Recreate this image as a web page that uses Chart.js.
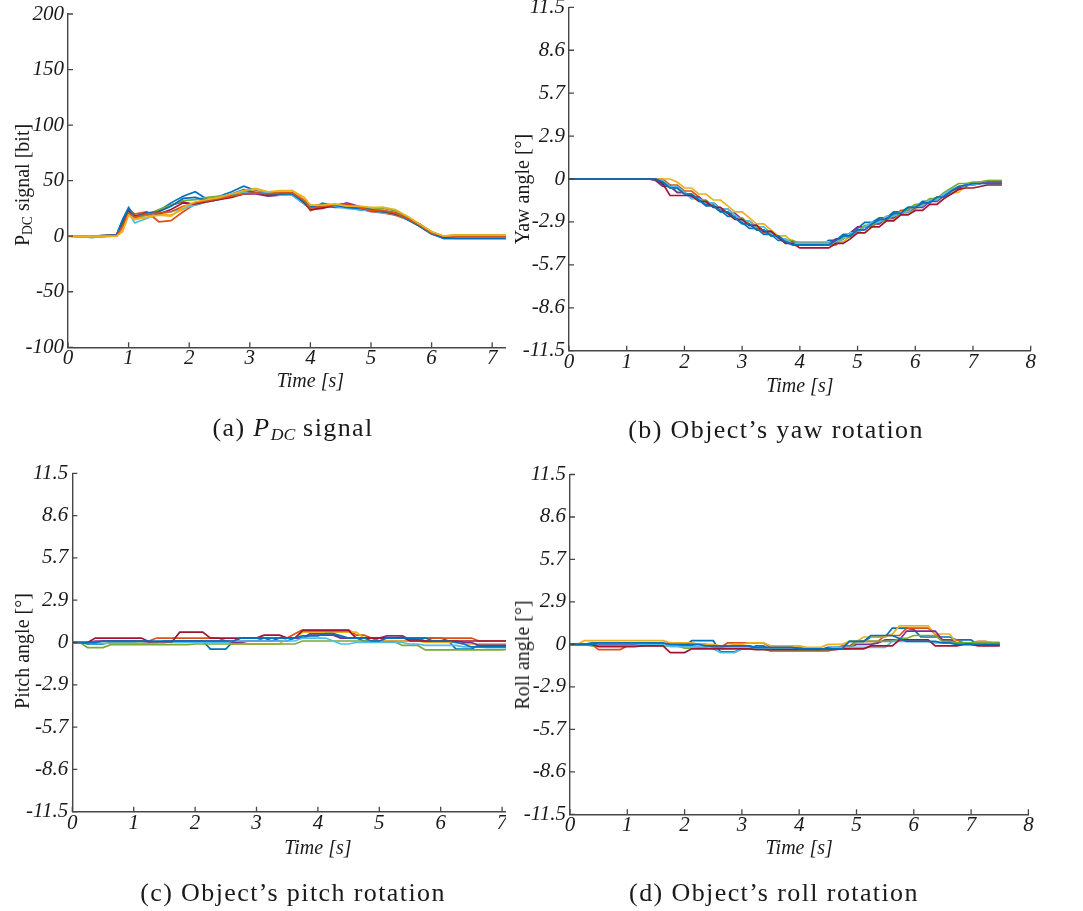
<!DOCTYPE html>
<html>
<head>
<meta charset="utf-8">
<script src="https://cdn.jsdelivr.net/npm/chart.js@4.4.1/dist/chart.umd.min.js"></script>
<style>
  body { margin: 0; background: #fff; }
  #fig { position: relative; width: 1083px; height: 911px; overflow: hidden;
         font-family: 'Liberation Serif', 'Times New Roman', serif; color: #1a1a1a; }
  .clip { position: absolute; overflow: hidden; }
  .clip canvas { position: absolute; }
  .ytitle { position: absolute; font-size: 20px; line-height: 20px; white-space: nowrap;
            transform: translate(-50%, -50%) rotate(-90deg); }
  .caption { position: absolute; font-size: 26px; line-height: 26px; letter-spacing: 1.4px;
             white-space: nowrap; transform: translate(-50%, -50%); }
  sub { font-size: 68%; vertical-align: -0.22em; line-height: 0; letter-spacing: 0; }
</style>
</head>
<body>
<div id="fig">
  <div class="ytitle" style="left:22px;top:185px">P<sub>DC</sub> signal [bit]</div>
  <div class="ytitle" style="left:522px;top:189px">Yaw angle [°]</div>
  <div class="ytitle" style="left:22px;top:651px">Pitch angle [°]</div>
  <div class="ytitle" style="left:522px;top:655px">Roll angle [°]</div>
  <div class="caption" style="left:293px;top:428px">(a) <i>P</i><sub><i>DC</i></sub> signal</div>
  <div class="caption" style="left:776px;top:430px">(b) Object’s yaw rotation</div>
  <div class="caption" style="left:293px;top:893px">(c) Object’s pitch rotation</div>
  <div class="caption" style="left:774px;top:893px">(d) Object’s roll rotation</div>
</div>
<script>
// ---- P_DC signal, one array per trial ----
const pdcTime = [0, 0.4, 0.8, 0.9, 1.0, 1.1, 1.3, 1.5, 1.7, 1.9, 2.1, 2.3, 2.5, 2.7, 2.9, 3.1, 3.3,
  3.5, 3.7, 3.9, 4.0, 4.2, 4.4, 4.6, 4.8, 5.0, 5.2, 5.4, 5.6, 5.8, 6.0, 6.2, 6.4, 7.5];
const pdcRun1  = [0, -1, 1, 15, 26, 18, 20, 23, 30, 36, 40, 33, 36, 40, 45, 41, 38, 38, 37, 29, 25, 28, 26, 26, 24, 23, 22, 20, 15, 10, 3, -2, -2, -2];
const pdcRun2  = [0, 0, 0, 8, 24, 20, 22, 13, 14, 22, 29, 31, 33, 36, 39, 40, 39, 39, 39, 31, 23, 27, 27, 28, 25, 22, 21, 19, 15, 9, 2, -1, 0, 0];
const pdcRun3  = [0, -1, 1, 5, 20, 16, 17, 20, 19, 24, 30, 33, 35, 37, 41, 42, 40, 40, 41, 33, 28, 27, 28, 27, 26, 25, 26, 23, 16, 10, 4, 0, 1, 1];
const pdcRun4  = [0, 0, 1, 10, 22, 18, 19, 22, 28, 31, 28, 32, 34, 36, 38, 38, 36, 37, 37, 30, 26, 26, 27, 30, 27, 24, 23, 21, 16, 10, 3, -1, 0, 0];
const pdcRun5  = [0, 0, 1, 12, 25, 17, 19, 24, 28, 32, 33, 35, 36, 37, 40, 40, 38, 38, 38, 32, 27, 28, 27, 28, 26, 24, 25, 23, 17, 11, 4, 0, 1, 1];
const pdcRun6  = [0, -1, 0, 9, 21, 12, 16, 20, 22, 25, 28, 31, 33, 36, 39, 40, 39, 37, 37, 29, 24, 30, 27, 25, 24, 23, 21, 20, 15, 10, 3, -1, -2, -2];
const pdcRun7  = [0, 0, 1, 11, 23, 18, 21, 20, 24, 30, 29, 31, 33, 35, 38, 39, 37, 38, 39, 30, 24, 25, 28, 29, 26, 23, 22, 20, 16, 11, 3, -1, 0, 0];
const pdcRun8  = [0, 0, 1, 14, 25, 17, 21, 22, 27, 34, 35, 32, 34, 38, 42, 39, 38, 38, 38, 31, 26, 29, 28, 26, 25, 24, 22, 21, 15, 9, 2, -2, -2, -2];
const pdcRun9  = [0, 0, 0, 9, 21, 17, 20, 21, 22, 27, 30, 32, 34, 36, 38, 39, 38, 39, 39, 32, 25, 27, 28, 29, 26, 23, 23, 21, 16, 10, 3, 0, 0, 0];
const pdcRun10 = [0, 0, 0, 4, 19, 15, 17, 19, 18, 26, 31, 33, 35, 38, 41, 43, 40, 41, 41, 35, 28, 28, 29, 27, 27, 26, 26, 24, 18, 11, 4, 0, 1, 1];

// ---- object rotation (deg), sampled every 0.125 s ----
const angleTime = [0, 0.125, 0.25, 0.375, 0.5, 0.625, 0.75, 0.875, 1, 1.125, 1.25, 1.375, 1.5, 1.625, 1.75, 1.875,
  2, 2.125, 2.25, 2.375, 2.5, 2.625, 2.75, 2.875, 3, 3.125, 3.25, 3.375, 3.5, 3.625, 3.75, 3.875,
  4, 4.125, 4.25, 4.375, 4.5, 4.625, 4.75, 4.875, 5, 5.125, 5.25, 5.375, 5.5, 5.625, 5.75, 5.875,
  6, 6.125, 6.25, 6.375, 6.5, 6.625, 6.75, 6.875, 7, 7.125, 7.25, 7.375, 7.5];

const yawRun1 = [0, 0, 0, 0, 0, 0, 0, 0, 0, 0, 0, 0, 0, -0.4, -0.4, -0.9,
  -0.9, -1.3, -1.3, -1.7, -1.7, -2.1, -2.5, -2.5, -2.9, -3.3, -3.3, -3.7, -3.7, -4.1, -4.1, -4.4,
  -4.4, -4.4, -4.4, -4.4, -4.1, -4.1, -3.7, -3.7, -3.3, -2.9, -2.9, -2.6, -2.6, -2.2, -2.2, -1.9,
  -1.9, -1.5, -1.5, -1.2, -1.2, -0.8, -0.5, -0.5, -0.3, -0.3, -0.2, -0.2, -0.2];
const yawRun2 = [0, 0, 0, 0, 0, 0, 0, 0, 0, 0, 0, 0, 0, 0, -0.4, -0.4,
  -0.8, -0.8, -1.2, -1.6, -1.6, -2.0, -2.0, -2.4, -2.8, -2.8, -3.2, -3.6, -3.6, -3.9, -4.2, -4.2,
  -4.4, -4.4, -4.4, -4.4, -4.4, -4.4, -4.0, -3.6, -3.6, -3.2, -3.2, -2.8, -2.5, -2.5, -2.1, -2.1,
  -1.8, -1.8, -1.4, -1.4, -1.0, -1.0, -0.7, -0.4, -0.4, -0.3, -0.2, -0.2, -0.2];
const yawRun3 = [0, 0, 0, 0, 0, 0, 0, 0, 0, 0, 0, 0, 0, 0, 0, -0.2,
  -0.6, -0.6, -1.0, -1.0, -1.4, -1.4, -1.8, -2.2, -2.2, -2.6, -3.0, -3.0, -3.4, -3.8, -3.8, -4.2,
  -4.2, -4.2, -4.2, -4.2, -4.2, -4.2, -4.2, -3.8, -3.4, -3.4, -3.0, -3.0, -2.7, -2.7, -2.3, -2.3,
  -2.0, -1.6, -1.6, -1.2, -1.2, -0.9, -0.9, -0.4, -0.3, -0.2, -0.1, -0.1, -0.1];
const yawRun4 = [0, 0, 0, 0, 0, 0, 0, 0, 0, 0, 0, 0, -0.1, -0.5, -0.5, -0.9,
  -0.9, -1.2, -1.2, -1.6, -1.6, -2.0, -2.3, -2.3, -2.7, -3.1, -3.1, -3.5, -3.5, -3.9, -4.2, -4.2,
  -4.3, -4.3, -4.3, -4.3, -4.3, -4.0, -4.0, -3.6, -3.2, -3.2, -3.0, -3.0, -2.6, -2.6, -2.2, -2.2,
  -1.9, -1.9, -1.5, -1.5, -1.1, -0.8, -0.6, -0.4, -0.4, -0.3, -0.2, -0.2, -0.2];
const yawRun5 = [0, 0, 0, 0, 0, 0, 0, 0, 0, 0, 0, 0, 0, -0.2, -0.6, -0.6,
  -1.0, -1.0, -1.4, -1.4, -1.8, -2.2, -2.2, -2.6, -2.6, -3.0, -3.4, -3.4, -3.8, -3.8, -4.1, -4.1,
  -4.3, -4.3, -4.3, -4.3, -4.3, -4.3, -3.9, -3.9, -3.5, -3.1, -3.1, -2.8, -2.8, -2.4, -2.4, -2.0,
  -1.7, -1.7, -1.3, -1.3, -0.9, -0.6, -0.3, -0.3, -0.2, -0.2, -0.1, -0.1, -0.1];
const yawRun6 = [0, 0, 0, 0, 0, 0, 0, 0, 0, 0, 0, 0, 0, -0.1, -0.5, -0.5,
  -0.9, -1.3, -1.3, -1.6, -1.6, -2.0, -2.0, -2.4, -2.8, -2.8, -3.2, -3.2, -3.6, -4.0, -4.0, -4.3,
  -4.3, -4.3, -4.3, -4.3, -4.3, -4.3, -4.0, -3.6, -3.6, -3.2, -2.9, -2.9, -2.5, -2.5, -2.2, -2.2,
  -1.8, -1.8, -1.4, -1.4, -1.0, -0.7, -0.5, -0.4, -0.4, -0.3, -0.3, -0.3, -0.3];
const yawRun7 = [0, 0, 0, 0, 0, 0, 0, 0, 0, 0, 0, 0, 0, -0.3, -1.1, -1.1,
  -1.1, -1.1, -1.5, -1.5, -1.9, -1.9, -2.3, -2.7, -2.7, -3.1, -3.1, -3.5, -3.5, -3.9, -4.3, -4.3,
  -4.6, -4.6, -4.6, -4.6, -4.6, -4.3, -4.3, -4.0, -3.6, -3.6, -3.2, -3.2, -2.8, -2.8, -2.4, -2.4,
  -2.1, -2.1, -1.7, -1.7, -1.3, -1.0, -0.7, -0.6, -0.6, -0.5, -0.4, -0.4, -0.4];
const yawRun8 = [0, 0, 0, 0, 0, 0, 0, 0, 0, 0, 0, 0, 0, -0.2, -0.6, -0.6,
  -1.0, -1.0, -1.4, -1.8, -1.8, -2.2, -2.2, -2.6, -3.0, -3.0, -3.4, -3.4, -3.8, -3.8, -4.2, -4.4,
  -4.4, -4.4, -4.4, -4.4, -4.4, -4.1, -3.8, -3.8, -3.4, -3.4, -3.0, -2.7, -2.7, -2.3, -2.3, -1.9,
  -1.9, -1.6, -1.6, -1.2, -1.2, -0.8, -0.5, -0.4, -0.3, -0.3, -0.3, -0.3, -0.3];

const pitchRun1 = [0, 0, -0.1, -0.1, -0.1, 0, 0, 0, 0, 0, 0, 0, 0.1, 0.1, 0.1, 0.1,
  0.1, 0.1, -0.45, -0.45, -0.45, 0.1, 0.3, 0.3, 0.3, 0.3, 0.1, 0.1, 0.1, 0.3, 0.3, 0.6,
  0.6, 0.6, 0.6, 0.3, 0.3, 0.3, 0.1, 0.1, 0.3, 0.3, 0.3, 0.3, 0.3, 0.3, 0.3, 0.3,
  0.3, 0.1, -0.45, -0.45, -0.45, -0.15, -0.15, -0.15, -0.15, -0.15, -0.15, -0.15, -0.15];
const pitchRun2 = [0, 0, 0, 0, 0.1, 0.1, 0.1, 0.1, 0.1, 0.1, 0.1, 0.3, 0.3, 0.3, 0.3, 0.3,
  0.3, 0.3, 0.3, 0.3, 0.1, 0.1, 0.1, 0.1, 0.1, 0.3, 0.3, 0.3, 0.3, 0.6, 0.85, 0.85,
  0.85, 0.85, 0.85, 0.85, 0.85, 0.5, 0.5, 0.3, 0.1, 0.1, 0.1, 0.1, 0.1, 0.1, 0.3, 0.3,
  0.3, 0.3, 0.3, 0.3, 0.3, 0.1, 0.1, 0.1, 0.1, 0.1, 0.1, 0.1, 0.1];
const pitchRun3 = [0, 0, 0.05, 0.05, 0.05, 0.05, 0.05, 0.05, 0.05, 0, 0, 0, 0, 0.05, 0.05, 0.05,
  0.05, 0.05, 0.1, 0.1, 0.1, -0.1, -0.1, -0.1, -0.1, -0.1, -0.1, -0.1, 0.3, 0.3, 0.7, 0.7,
  0.7, 0.7, 0.7, 0.7, 0.7, 0.7, 0.3, 0.3, 0.3, 0.1, 0.1, 0.1, 0.1, 0.1, 0, 0,
  0, 0, 0, -0.1, -0.1, -0.1, -0.1, -0.1, -0.1, -0.1, -0.1, -0.1, -0.1];
const pitchRun4 = [0, 0, 0, 0.1, 0.1, 0.1, 0.1, 0.1, 0.1, 0.1, 0, 0, 0, 0.1, 0.1, 0.1,
  0.1, 0.1, 0.1, 0.1, 0.1, 0, 0, 0.1, 0.1, 0.1, 0.1, 0.3, 0.3, 0.3, 0.3, 0.5,
  0.5, 0.5, 0.5, 0.3, 0.3, 0.3, 0.3, 0.3, 0.3, 0.45, 0.45, 0.45, 0.2, 0.2, 0.1, 0.1,
  0.1, 0.1, 0.1, 0, 0, -0.2, -0.2, -0.2, -0.2, -0.2, -0.2, -0.2, -0.2];
const pitchRun5 = [0, 0, -0.35, -0.35, -0.35, -0.15, -0.15, -0.15, -0.15, -0.15, -0.15, -0.15, -0.15, -0.15, -0.15, -0.15,
  -0.1, -0.1, -0.1, -0.1, -0.1, -0.1, -0.1, -0.1, -0.1, -0.1, -0.1, -0.1, -0.1, -0.1, 0.1, 0.1,
  0.1, 0.1, 0.1, 0.1, 0.1, 0.1, 0.1, 0.1, 0.05, 0.05, 0.05, -0.2, -0.2, -0.2, -0.5, -0.5,
  -0.5, -0.5, -0.5, -0.5, -0.5, -0.5, -0.5, -0.5, -0.5, -0.45, -0.45, -0.45, -0.45];
const pitchRun6 = [0, 0, 0, 0, -0.05, -0.05, -0.05, -0.05, -0.05, -0.05, -0.05, 0, 0, 0, 0, 0,
  0, 0, 0, 0, 0, 0.1, 0.1, 0.1, 0.1, 0.1, 0.1, 0.1, 0.1, 0.1, 0.3, 0.3,
  0.3, 0.3, 0.1, -0.1, -0.1, 0, 0, 0, 0, 0, 0, 0, -0.1, -0.1, -0.2, -0.2,
  -0.2, -0.2, -0.2, -0.3, -0.3, -0.3, -0.35, -0.35, -0.35, -0.35, -0.35, -0.35, -0.35];
const pitchRun7 = [0, 0, 0, 0.3, 0.3, 0.3, 0.3, 0.3, 0.3, 0.3, 0.05, 0.05, 0.05, 0.05, 0.7, 0.7,
  0.7, 0.7, 0.3, 0.3, 0.3, 0.3, 0.3, 0.3, 0.3, 0.5, 0.5, 0.5, 0.3, 0.3, 0.8, 0.8,
  0.8, 0.8, 0.8, 0.8, 0.8, 0.3, 0.3, 0.3, 0.3, 0.3, 0.3, 0.35, 0.1, 0.1, 0.1, 0.1,
  0.1, 0.1, 0.1, 0.1, 0.1, 0.1, 0.1, 0.1, 0.1, 0.1, 0.1, 0.1, 0.1];
const pitchRun8 = [0, 0, 0, 0, 0.1, 0.1, 0.1, 0.1, 0.1, 0.1, 0.1, 0.1, 0.1, 0.1, 0.1, 0.1,
  0.1, 0.1, 0.1, 0.1, 0.1, 0.1, 0.3, 0.3, 0.3, 0.3, 0.3, 0.3, 0.3, 0.3, 0.45, 0.45,
  0.45, 0.6, 0.6, 0.45, 0.3, 0.3, 0.3, 0.1, 0.1, 0.3, 0.3, 0.3, 0.3, 0.3, 0.3, 0.1,
  0.1, 0.1, 0, -0.1, -0.3, -0.3, -0.3, -0.3, -0.3, -0.3, -0.3, -0.3, -0.3];

const rollRun1 = [0, 0, 0, 0.1, 0.1, 0.1, 0.1, 0.1, 0.1, 0, 0, 0, 0, 0, -0.1, -0.1,
  -0.1, 0.25, 0.25, 0.25, 0.25, -0.5, -0.5, -0.5, -0.3, -0.3, -0.1, -0.1, -0.35, -0.35, -0.35, -0.35,
  -0.35, -0.35, -0.35, -0.35, -0.2, -0.2, -0.2, 0.2, 0.2, 0.2, 0.5, 0.5, 0.5, 1.1, 1.1, 1.1,
  1.0, 0.5, 0.5, 0.5, 0.5, 0.5, 0.3, 0.3, 0.3, -0.05, -0.05, -0.05, -0.05];
const rollRun2 = [0, 0, 0, 0, -0.35, -0.35, -0.35, -0.35, -0.1, -0.1, -0.1, 0, 0, 0, 0, 0,
  0, 0, 0, 0, -0.2, -0.2, 0.1, 0.1, 0.1, 0.1, 0.1, 0.1, -0.2, -0.2, -0.2, -0.2,
  -0.2, -0.3, -0.3, -0.3, -0.3, -0.3, -0.1, -0.1, 0.2, 0.2, 0.2, 0.2, 0.6, 0.6, 0.6, 1.1,
  1.1, 1.1, 1.1, 0.7, 0.3, 0.3, 0.3, 0.1, 0.1, 0.2, 0.2, 0.1, 0.1];
const rollRun3 = [0, 0, 0.25, 0.25, 0.25, 0.25, 0.25, 0.25, 0.25, 0.25, 0.25, 0.25, 0.25, 0.25, 0.1, 0.1,
  0.1, 0.1, 0, 0, 0, -0.1, -0.1, 0, 0, 0.1, 0.1, 0.1, -0.1, -0.1, -0.1, -0.1,
  -0.1, -0.2, -0.2, -0.2, 0, 0, 0, 0.2, 0.2, 0.5, 0.5, 0.5, 0.5, 0.7, 1.25, 1.25,
  1.25, 1.25, 1.25, 0.7, 0.7, 0.7, 0.1, 0.1, 0.1, 0.15, 0.15, 0.15, 0.15];
const rollRun4 = [0, 0, 0, 0, 0, 0, 0, 0, 0, 0, 0, 0, 0, 0, -0.1, -0.1,
  -0.1, -0.1, -0.2, -0.2, -0.2, -0.2, -0.1, -0.1, -0.1, -0.1, -0.25, -0.25, -0.25, -0.25, -0.25, -0.25,
  -0.3, -0.3, -0.3, -0.3, -0.3, -0.3, -0.2, -0.2, 0, 0, 0, 0.1, 0.3, 0.3, 0.3, 0.9,
  0.9, 0.9, 0.9, 0.9, 0.3, 0.3, 0.1, 0.1, 0, 0, 0, 0, 0];
const rollRun5 = [0, 0, 0, -0.1, -0.1, -0.1, -0.1, -0.1, -0.1, -0.1, -0.1, -0.1, -0.1, -0.1, -0.1, -0.1,
  -0.25, -0.25, -0.25, -0.25, -0.25, -0.25, -0.25, -0.25, -0.25, -0.25, -0.3, -0.3, -0.45, -0.45, -0.45, -0.45,
  -0.45, -0.45, -0.45, -0.45, -0.45, -0.3, -0.3, -0.3, 0.2, 0.2, 0.2, 0.2, 0.2, 0.2, 0.4, 0.4,
  0.6, 0.6, 0.6, 0.6, 0.2, 0.2, 0.1, 0.1, 0.1, 0.1, 0.1, 0.1, 0.1];
const rollRun6 = [0, 0, 0, 0, 0.05, 0.05, 0.05, 0.05, 0.05, 0.05, 0, 0, 0, 0, -0.15, -0.15,
  -0.15, -0.15, -0.15, -0.15, -0.3, -0.55, -0.55, -0.55, -0.3, -0.3, -0.3, -0.3, -0.3, -0.3, -0.3, -0.3,
  -0.3, -0.3, -0.3, -0.3, -0.3, -0.2, -0.2, -0.2, -0.2, -0.2, -0.2, -0.2, -0.2, 0.2, 0.2, 0.2,
  0.2, 0.2, 0.2, 0.1, 0.1, 0.1, 0, 0, 0, 0, 0, 0, 0];
const rollRun7 = [0, 0, 0, 0, -0.15, -0.15, -0.15, -0.15, -0.15, -0.15, -0.1, -0.1, -0.1, -0.1, -0.55, -0.55,
  -0.55, -0.3, -0.3, -0.3, -0.3, -0.3, -0.3, -0.3, -0.3, -0.3, -0.35, -0.35, -0.35, -0.35, -0.35, -0.35,
  -0.35, -0.35, -0.35, -0.35, -0.35, -0.35, -0.3, -0.3, -0.3, -0.3, -0.1, -0.1, -0.1, -0.1, 0.3, 0.3,
  0.3, 0.3, 0.3, -0.1, -0.1, -0.1, -0.1, 0, 0, -0.1, -0.1, -0.1, -0.1];
const rollRun8 = [0, 0, 0, 0, 0.1, 0.1, 0.1, 0.1, 0.1, 0.1, 0.1, 0.1, 0.1, 0.1, 0, 0,
  0, 0, 0, -0.1, -0.1, -0.1, -0.1, -0.1, -0.1, -0.1, -0.2, -0.2, -0.2, -0.2, -0.2, -0.2,
  -0.3, -0.3, -0.3, -0.3, -0.3, -0.3, -0.3, 0.2, 0.2, 0.2, 0.6, 0.6, 0.6, 0.6, 0.4, 0.2,
  0.2, 0.2, 0.2, 0.2, 0.1, 0.1, 0, 0, 0, 0, 0, 0, 0];

// axis ticks
const timeTicks = [0, 1, 2, 3, 4, 5, 6, 7, 8];
const pdcTicks = [-100, -50, 0, 50, 100, 150, 200];
const angleTicks = [-11.46, -8.595, -5.73, -2.865, 0, 2.865, 5.73, 8.595, 11.46];
const angleTickLabels = ['-11.5', '-8.6', '-5.7', '-2.9', '0', '2.9', '5.7', '8.6', '11.5'];

// MATLAB default line colour order
const lineColors = ['#0072BD', '#D95319', '#EDB120', '#7E2F8E', '#77AC30', '#4DBEEE', '#A2142F'];
const AXIS_COLOR = '#464646';
const TEXT_COLOR = '#1a1a1a';
const TICK_LEN = 5;
const SERIF = "'Liberation Serif', 'Times New Roman', serif";

// MATLAB-style ticks that point into the plot
const inwardTicks = {
  id: 'inwardTicks',
  afterDraw(chart) {
    const {ctx, chartArea: a, scales: {x, y}} = chart;
    ctx.save();
    ctx.strokeStyle = AXIS_COLOR;
    ctx.lineWidth = 1.3;
    ctx.beginPath();
    x.ticks.forEach(t => {
      const px = x.getPixelForValue(t.value);
      ctx.moveTo(px, a.bottom);
      ctx.lineTo(px, a.bottom - TICK_LEN);
    });
    y.ticks.forEach(t => {
      const py = y.getPixelForValue(t.value);
      ctx.moveTo(a.left, py);
      ctx.lineTo(a.left + TICK_LEN, py);
    });
    ctx.stroke();
    ctx.restore();
  }
};

function runsToDatasets(times, runs) {
  return runs.map((vals, i) => ({
    data: vals.map((v, k) => ({x: times[k], y: v})),
    borderColor: lineColors[i % lineColors.length],
    borderWidth: 1.7,
    pointRadius: 0,
    tension: 0,
    order: runs.length - i   // later runs drawn on top
  }));
}

// clip/canvas: [left, top, width, height] on the page; plot: [left, top, right, bottom] on the page
function addPanel(cfg) {
  const fig = document.getElementById('fig');
  const wrap = document.createElement('div');
  wrap.className = 'clip';
  const [wl, wt, ww, wh] = cfg.clip;
  Object.assign(wrap.style, {left: wl + 'px', top: wt + 'px', width: ww + 'px', height: wh + 'px'});
  const canvas = document.createElement('canvas');
  const [cl, ct, cw, ch] = cfg.canvas;
  canvas.width = cw;
  canvas.height = ch;
  Object.assign(canvas.style, {left: (cl - wl) + 'px', top: (ct - wt) + 'px', width: cw + 'px', height: ch + 'px'});
  wrap.appendChild(canvas);
  fig.insertBefore(wrap, fig.firstChild);

  const [pl, pt, pr, pb] = cfg.plot;
  const yWidth = pl - cl;
  const xHeight = ct + ch - pb;
  const titlePad = ct + ch - cfg.xTitleY - 12;

  const tickFont = {family: SERIF, style: 'italic', size: 21, lineHeight: 1};

  new Chart(canvas, {
    type: 'line',
    data: {datasets: runsToDatasets(cfg.times, cfg.runs)},
    options: {
      responsive: false,
      animation: false,
      events: [],
      layout: {padding: {left: 0, top: pt - ct, right: cl + cw - pr, bottom: 0}},
      plugins: {legend: {display: false}, tooltip: {enabled: false}},
      scales: {
        x: {
          type: 'linear', min: 0, max: 8,
          afterBuildTicks: s => { s.ticks = timeTicks.map(v => ({value: v})); },
          afterFit: s => { s.height = xHeight; },
          grid: {display: false, drawTicks: false},
          border: {display: true, color: AXIS_COLOR, width: 1.4},
          ticks: {font: tickFont, color: TEXT_COLOR, padding: 1, maxRotation: 0, autoSkip: false},
          title: {display: true, text: 'Time [s]', color: TEXT_COLOR,
                  font: {family: SERIF, style: 'italic', size: 20, lineHeight: 1.2},
                  padding: {top: 0, bottom: titlePad}}
        },
        y: {
          type: 'linear', min: cfg.yTicks[0], max: cfg.yTicks[cfg.yTicks.length - 1],
          afterBuildTicks: s => { s.ticks = cfg.yTicks.map(v => ({value: v})); },
          afterFit: s => { s.width = yWidth; },
          grid: {display: false, drawTicks: false},
          border: {display: true, color: AXIS_COLOR, width: 1.4},
          ticks: {font: tickFont, color: TEXT_COLOR, padding: 4, autoSkip: false,
                  callback: cfg.yLabels ? (v, i) => cfg.yLabels[i] : v => v}
        }
      }
    },
    plugins: [inwardTicks]
  });
}

addPanel({
  clip: [0, 0, 506, 410], canvas: [0, -20, 575, 420], plot: [68, 14, 552.8, 347.3], xTitleY: 382,
  times: pdcTime, yTicks: pdcTicks,
  runs: [pdcRun1, pdcRun2, pdcRun3, pdcRun4, pdcRun5, pdcRun6, pdcRun7, pdcRun8, pdcRun9, pdcRun10]
});
addPanel({
  clip: [500, 0, 583, 410], canvas: [500, -20, 560, 420], plot: [569, 7.3, 1030.7, 350.7], xTitleY: 387,
  times: angleTime, yTicks: angleTicks, yLabels: angleTickLabels,
  runs: [yawRun1, yawRun2, yawRun3, yawRun4, yawRun5, yawRun6, yawRun7, yawRun8]
});
addPanel({
  clip: [0, 440, 506, 450], canvas: [0, 440, 575, 440], plot: [72.3, 473.3, 563.5, 811.7], xTitleY: 849,
  times: angleTime, yTicks: angleTicks, yLabels: angleTickLabels,
  runs: [pitchRun1, pitchRun2, pitchRun3, pitchRun4, pitchRun5, pitchRun6, pitchRun7, pitchRun8]
});
addPanel({
  clip: [500, 440, 583, 450], canvas: [500, 440, 560, 440], plot: [570, 474.5, 1028.4, 814.3], xTitleY: 849,
  times: angleTime, yTicks: angleTicks, yLabels: angleTickLabels,
  runs: [rollRun1, rollRun2, rollRun3, rollRun4, rollRun5, rollRun6, rollRun7, rollRun8]
});
</script>
</body>
</html>
